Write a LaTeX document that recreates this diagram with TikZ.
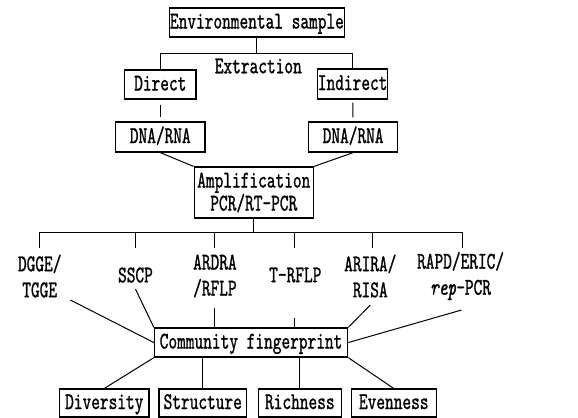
\documentclass[tikz,border=0pt]{standalone}
\usepackage{fontspec}
\setmainfont{lmmono10-regular.otf}[ItalicFont=lmmono10-italic.otf, FakeStretch=0.69, FakeBold=1]
\newcommand\myfont{\fontsize{24}{26}\selectfont}
\newcommand\ampfont{\fontsize{24}{21}\selectfont}
\tikzset{
  box/.style={draw, line width=1.2pt, inner sep=0pt, font=\myfont, text height=15pt, text depth=3pt},
  ampbox/.style={draw, line width=1.2pt, inner sep=0pt, font=\ampfont, align=center},
  lbl/.style={inner sep=0pt, font=\myfont, align=center},
  ln/.style={line width=1pt}
}
\begin{document}
\begin{tikzpicture}[x=0.903pt,y=-1pt]
\useasboundingbox (0,0) rectangle (640,417);
% boxes
\node[box, minimum width=174.3pt, minimum height=29pt] (env) at (284.5,22.5) {Environmental sample};
\node[lbl] (ext) at (286,66) {Extraction};
\node[box, minimum width=71.3pt, minimum height=29pt] (direct) at (177.5,84.5) {Direct};
\node[box, minimum width=69.5pt, minimum height=30pt] (indirect) at (390.5,84) {Indirect};
\node[box, minimum width=89.4pt, minimum height=30pt] (dnaL) at (177.5,137) {DNA/RNA};
\node[box, minimum width=88.5pt, minimum height=30pt] (dnaR) at (391,137) {DNA/RNA};
\node[ampbox, minimum width=119.2pt, minimum height=51pt] (amp) at (281,192.5) {Amplification\\PCR/RT-PCR};
% labels
\node[lbl] (m1) at (44,276) {DGGE/\\TGGE};
\node[lbl] (m2) at (150,275) {SSCP};
\node[lbl] (m3) at (238,276) {ARDRA\\/RFLP};
\node[lbl] (m4) at (327,275) {T-RFLP};
\node[lbl] (m5) at (410,276) {ARIRA/\\RISA};
\node[lbl] (m6) at (510,276) {RAPD/ERIC/\\\textit{rep}-PCR};
\node[box, minimum width=193.2pt, minimum height=29pt] (comm) at (278,342.5) {Community fingerprint};
\node[box, minimum width=89.4pt, minimum height=28pt] (div) at (115.5,403) {Diversity};
\node[box, minimum width=87.6pt, minimum height=28pt] (str) at (224.5,403) {Structure};
\node[box, minimum width=83.1pt, minimum height=28pt] (rich) at (332,403) {Richness};
\node[box, minimum width=84.9pt, minimum height=28pt] (even) at (436,403) {Evenness};
% coordinates
\coordinate (jL) at (177.5,53);
\coordinate (jR) at (390.5,53);
\coordinate (hL) at (44,232);
\coordinate (hR) at (512,232);
\coordinate (d1) at (44,248);
\coordinate (d2) at (150,248);
\coordinate (d3) at (238,248);
\coordinate (d4) at (326,248);
\coordinate (d5) at (413,248);
\coordinate (d6) at (512,248);
\coordinate (l1) at (78,300);
\coordinate (l2) at (150,289);
\coordinate (l3) at (238,308);
\coordinate (l4) at (326,318);
\coordinate (l5) at (410,305);
\coordinate (l6) at (511,310);
% connectors
\draw[ln] (env.south) -- (env.south |- jL);
\draw[ln] (jL) -- (jR);
\draw[ln] (jL) -- (direct.north);
\draw[ln] (jR) -- (indirect.north);
\draw[ln, shorten <=5pt, shorten >=4pt] (direct) -- (dnaL);
\draw[ln, shorten <=3pt, shorten >=4pt] (indirect) -- (dnaR);
\draw[ln] (dnaL.south) -- (amp.north west);
\draw[ln] (dnaR.south) -- (amp.north east);
\draw[ln] (amp.south) -- (amp.south |- hL);
\draw[ln] (hL) -- (hR);
\foreach \d in {d1,d2,d3,d4,d5,d6} { \draw[ln] (\d |- hL) -- (\d); }
\draw[ln] (l1) -- (comm.west);
\draw[ln] (l2) -- (comm.north west);
\draw[ln] (l3) -- (l3 |- comm.north);
\draw[ln] (l4) -- (l4 |- comm.north);
\draw[ln] (l5) -- (comm.north east);
\draw[ln] (l6) -- (comm.east);
\draw[ln] (comm.south west) -- (div.north);
\draw[ln] (str.north |- comm.south) -- (str.north);
\draw[ln] (rich.north |- comm.south) -- (rich.north);
\draw[ln] (comm.south east) -- (even.north);
\end{tikzpicture}
\end{document}
